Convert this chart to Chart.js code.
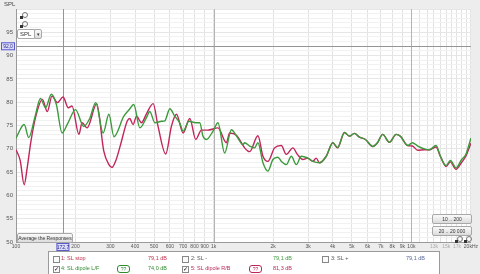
<!DOCTYPE html>
<html>
<head>
<meta charset="utf-8">
<script src="https://cdn.jsdelivr.net/npm/chart.js@4"></script>
<style>
  html, body { margin: 0; padding: 0; background: #ededed; }
  body { width: 480px; height: 274px; position: relative; overflow: hidden; font-family: "Liberation Sans", Arial, sans-serif; }
  #spl { position: absolute; left: 4px; top: 1px; font-size: 6px; color: #444; }
  .btn { position: absolute; background: linear-gradient(#fafafa, #dcdcdc); border: 1px solid #a8a8a8; border-radius: 2px; font-size: 5px; color: #333; text-align: center; line-height: 8px; white-space: nowrap; overflow: hidden; }
  .icon { position: absolute; width: 4px; height: 4px; border: 1px solid #777; border-radius: 50%; }
  .icon:after { content: ''; position: absolute; left: -3px; top: 3px; width: 3px; height: 3px; background: #333; }
  #legend { position: absolute; left: 48px; top: 251px; width: 390px; height: 30px; background: #fff; border: 1px solid #9a9a9a; font-size: 5.5px; }
  .row { position: absolute; left: 0; height: 10px; width: 100%; }
  .row span { position: absolute; top: 1px; white-space: nowrap; }
  .cb { position: absolute; top: 2px; width: 5px; height: 5px; border: 1px solid #888; background: #fafafa; font-size: 6px; line-height: 5px; }
  .pill { position: absolute; top: 1px; width: 11px; height: 6px; border: 1px solid; border-radius: 3px; font-size: 5px; line-height: 6px; text-align: center; }
</style>
</head>
<body>
<canvas id="chart" width="480" height="274" style="position:absolute;left:0;top:0"></canvas>
<div id="spl">SPL</div>
<div class="icon" style="left:22px;top:12px"></div>
<div class="icon" style="left:22px;top:21px"></div>
<div class="btn" style="left:17px;top:29px;width:15px;height:8px;background:#fff;text-align:left;padding-left:2px;font-size:6px">SPL</div>
<div class="btn" style="left:34px;top:29px;width:6px;height:8px">▾</div>
<div class="btn" style="left:17px;top:233px;width:54px;height:8px">Average the Responses</div>
<div class="btn" style="left:432px;top:214px;width:38px;height:8px">10 .. 200</div>
<div class="btn" style="left:432px;top:226px;width:38px;height:8px">20 .. 20 000</div>
<div class="icon" style="left:457px;top:236px"></div>
<div class="icon" style="left:466px;top:236px"></div>
<div id="legend">
  <div class="row" style="top:2px">
    <div class="cb" style="left:4px"></div><span style="left:12px;color:#c0304a">1: SL stop</span>
    <span style="left:99px;color:#c0304a">79,1 dB</span>
    <div class="cb" style="left:133px"></div><span style="left:142px;color:#555">2: SL -</span>
    <span style="left:224px;color:#3c9a3c">79,1 dB</span>
    <div class="cb" style="left:273px"></div><span style="left:282px;color:#555">3: SL +</span>
    <span style="left:357px;color:#5a6a9a">79,1 dB</span>
  </div>
  <div class="row" style="top:12px">
    <div class="cb" style="left:4px">✓</div><span style="left:12px;color:#2f8a2f">4: SL dipole L/F</span>
    <div class="pill" style="left:68px;color:#2f8a2f;border-color:#2f8a2f">??</div>
    <span style="left:99px;color:#2f8a2f">74,0 dB</span>
    <div class="cb" style="left:133px">✓</div><span style="left:142px;color:#b8265a">5: SL dipole R/B</span>
    <div class="pill" style="left:200px;color:#b8265a;border-color:#b8265a">??</div>
    <span style="left:224px;color:#b8265a">81,3 dB</span>
  </div>
</div>
<script>
// measurement 4: SL dipole L/F (green)
const greenHz = [100, 110, 116, 125, 133, 141, 151, 160, 171, 183, 200, 220, 236, 253, 276, 295, 313, 351, 375, 394,
  423, 457, 475, 504, 546, 566, 600, 635, 673, 700, 750, 811, 850, 883, 919, 992, 1051, 1136, 1229, 1307,
  1406, 1434, 1520, 1610, 1674, 1775, 1880, 1993, 2112, 2198, 2329, 2470, 2617, 2773, 3053, 3173, 3430, 3709,
  4005, 4230, 4587, 4864, 5154, 5463, 5857, 6376, 6735, 7160, 7740, 8370, 8798, 9580, 10120, 10760, 11630,
  12330, 13330, 14010, 14970, 15740, 16820, 17890, 18900, 20000];
const greenDb = [72.3, 75.2, 72.4, 77.0, 80.8, 78.8, 81.7, 79.5, 73.4, 75.5, 78.4, 74.8, 76.5, 79.9, 73.4, 77.4, 72.6, 77.0, 78.5, 79.5,
  74.5, 76.7, 78.0, 75.6, 75.9, 76.0, 78.6, 77.0, 75.6, 73.8, 75.9, 75.6, 75.6, 72.7, 72.0, 73.8, 75.6, 69.1, 74.1, 72.7,
  70.9, 71.3, 70.6, 70.2, 71.3, 67.0, 65.2, 67.7, 68.2, 67.3, 66.6, 68.4, 66.6, 68.4, 67.8, 67.3, 67.0, 68.4,
  71.3, 70.3, 73.5, 72.7, 73.3, 72.5, 72.0, 70.5, 71.3, 73.1, 71.4, 73.1, 72.7, 70.7, 71.3, 70.6, 70.0,
  69.8, 70.7, 68.4, 66.4, 67.5, 65.9, 67.6, 68.9, 72.3];

// measurement 5: SL dipole R/B (crimson)
const redHz = [100, 105, 110, 114, 119, 126, 136, 144, 152, 162, 173, 184, 192, 208, 216, 229, 256, 278, 295, 306,
  320, 338, 365, 376, 391, 407, 431, 457, 494, 523, 572, 611, 648, 700, 757, 811, 867, 933, 1051, 1159,
  1204, 1302, 1434, 1490, 1520, 1674, 1775, 1880, 2032, 2198, 2329, 2515, 2650, 2825, 2983, 3173, 3300, 3430, 3709,
  4005, 4230, 4587, 4864, 5154, 5463, 5857, 6376, 6735, 7160, 7740, 8370, 8798, 9580, 10120, 10760, 11630,
  12330, 13330, 14010, 14970, 15740, 16820, 17890, 18900, 20000];
const redDb = [69.8, 67.5, 62.3, 66.0, 71.6, 77.0, 80.6, 78.0, 81.3, 79.9, 81.1, 78.8, 79.2, 73.1, 75.6, 74.5, 79.7, 69.5, 66.6, 66.0,
  67.5, 70.9, 75.9, 76.5, 75.2, 77.0, 75.6, 77.5, 79.7, 74.8, 68.9, 74.8, 77.4, 73.4, 76.5, 72.0, 74.0, 74.0, 74.5, 71.3,
  73.4, 72.9, 70.2, 69.5, 69.4, 72.8, 68.4, 67.3, 70.2, 70.7, 68.8, 70.2, 68.8, 67.7, 68.0, 67.3, 68.0, 67.0, 68.4,
  71.3, 70.2, 73.5, 72.7, 73.3, 72.5, 72.0, 70.5, 71.3, 73.1, 71.4, 73.1, 72.7, 70.7, 70.6, 69.7, 69.8,
  69.8, 70.4, 68.4, 66.2, 67.2, 65.6, 67.0, 68.5, 71.2];

// x grid lines and labels
const gridHz = [100, 200, 300, 400, 500, 600, 700, 800, 900, 1000, 2000, 3000, 4000, 5000, 6000, 7000, 8000, 9000,
  10000, 11000, 12000, 13000, 14000, 15000, 16000, 17000, 18000, 19000, 20000];
const hzLabels = { 100: '100', 200: '200', 300: '300', 400: '400', 500: '500', 600: '600', 700: '700', 800: '800', 900: '900',
  1000: '1k', 2000: '2k', 3000: '3k', 4000: '4k', 5000: '5k', 6000: '6k', 7000: '7k', 8000: '8k', 9000: '9k',
  10000: '10k', 13000: '13k', 15000: '15k', 17000: '17k', 20000: '20kHz' };
const greyHz = [13000, 15000, 17000];
const decadeHz = [1000, 10000];

// y grid every dB, labels every 5 dB
const dbTicks = [];
for (let v = 50; v <= 100; v++) dbTicks.push(v);
const dbLabels = [50, 55, 60, 65, 70, 75, 80, 85, 90, 95];

// cursor position
const cursorHz = 172.7;
const cursorDb = 92.0;

const chartBg = {
    id: 'chartBg',
    beforeDraw(chart) {
        const { ctx, chartArea: a } = chart;
        ctx.save();
        ctx.fillStyle = '#ededed';
        ctx.fillRect(0, 0, chart.width, chart.height);
        ctx.fillStyle = '#ffffff';
        ctx.fillRect(a.left, a.top, a.right - a.left, a.bottom - a.top);
        ctx.restore();
    },
    beforeDatasetsDraw(chart) {
        const { ctx, chartArea: a, scales: { x, y } } = chart;
        ctx.save();
        ctx.lineWidth = 1;
        // decade lines
        ctx.strokeStyle = '#b4b4b4';
        ctx.beginPath();
        decadeHz.forEach(f => {
            const px = Math.round(x.getPixelForValue(f)) + 0.5;
            ctx.moveTo(px, a.top); ctx.lineTo(px, a.bottom);
        });
        ctx.stroke();
        // cursor
        ctx.strokeStyle = '#959595';
        const cx = Math.round(x.getPixelForValue(cursorHz)) + 0.5;
        const cy = Math.round(y.getPixelForValue(cursorDb)) + 0.5;
        ctx.beginPath();
        ctx.moveTo(cx, a.top); ctx.lineTo(cx, a.bottom);
        ctx.moveTo(a.left, cy); ctx.lineTo(a.right, cy);
        ctx.stroke();
        ctx.restore();
    },
    afterDraw(chart) {
        const { ctx, scales: { x, y } } = chart;
        const box = (text, cx, cy, w) => {
            ctx.fillStyle = '#dcdcfa';
            ctx.strokeStyle = '#5a5ac8';
            ctx.fillRect(cx - w / 2, cy - 4, w, 8);
            ctx.strokeRect(cx - w / 2 + 0.5, cy - 3.5, w - 1, 7);
            ctx.fillStyle = '#2a2a8a';
            ctx.font = '5px "Liberation Sans"';
            ctx.textAlign = 'center';
            ctx.textBaseline = 'middle';
            ctx.fillText(text, cx, cy + 0.5);
        };
        ctx.save();
        box('172,7', x.getPixelForValue(cursorHz), 247, 13);
        box('92,0', 8, y.getPixelForValue(cursorDb), 14);
        ctx.restore();
    },
};

new Chart(document.getElementById('chart'), {
    type: 'line',
    data: {
        datasets: [
            {
                label: '4: SL dipole L/F',
                data: greenHz.map((f, i) => ({ x: f, y: greenDb[i] })),
                borderColor: '#3c9a3c',
                borderWidth: 1.4,
                pointRadius: 0,
                cubicInterpolationMode: 'monotone',
            },
            {
                label: '5: SL dipole R/B',
                data: redHz.map((f, i) => ({ x: f, y: redDb[i] })),
                borderColor: '#c0265a',
                borderWidth: 1.4,
                pointRadius: 0,
                cubicInterpolationMode: 'monotone',
            },
        ],
    },
    options: {
        responsive: false,
        animation: false,
        layout: { padding: { top: 9, right: 8, left: 0, bottom: 0 } },
        plugins: { legend: { display: false }, tooltip: { enabled: false } },
        scales: {
            x: {
                type: 'logarithmic',
                min: 100,
                max: 20000,
                afterFit(s) { s.height = 32; },
                afterBuildTicks(s) { s.ticks = gridHz.map(v => ({ value: v })); },
                ticks: {
                    autoSkip: false,
                    maxRotation: 0,
                    padding: 2,
                    font: { family: 'Liberation Sans', size: 5 },
                    color: c => greyHz.includes(c.tick.value) ? '#aaaaaa' : '#555555',
                    callback: v => hzLabels[v] || '',
                },
                grid: {
                    tickLength: 0,
                    color: '#e2e2e2',
                },
                border: { color: '#9a9a9a' },
            },
            y: {
                min: 50,
                max: 100,
                afterFit(s) { s.width = 16; },
                afterBuildTicks(s) { s.ticks = dbTicks.map(v => ({ value: v })); },
                ticks: {
                    autoSkip: false,
                    padding: 3,
                    font: { family: 'Liberation Sans', size: 6 },
                    color: '#555555',
                    callback: v => dbLabels.includes(v) ? String(v) : '',
                },
                grid: {
                    tickLength: 0,
                    color: c => c.tick.value % 5 === 0 ? '#e6e6e6' : '#f1f1f1',
                },
                border: { color: '#9a9a9a' },
            },
        },
    },
    plugins: [chartBg],
});
</script>
</body>
</html>
